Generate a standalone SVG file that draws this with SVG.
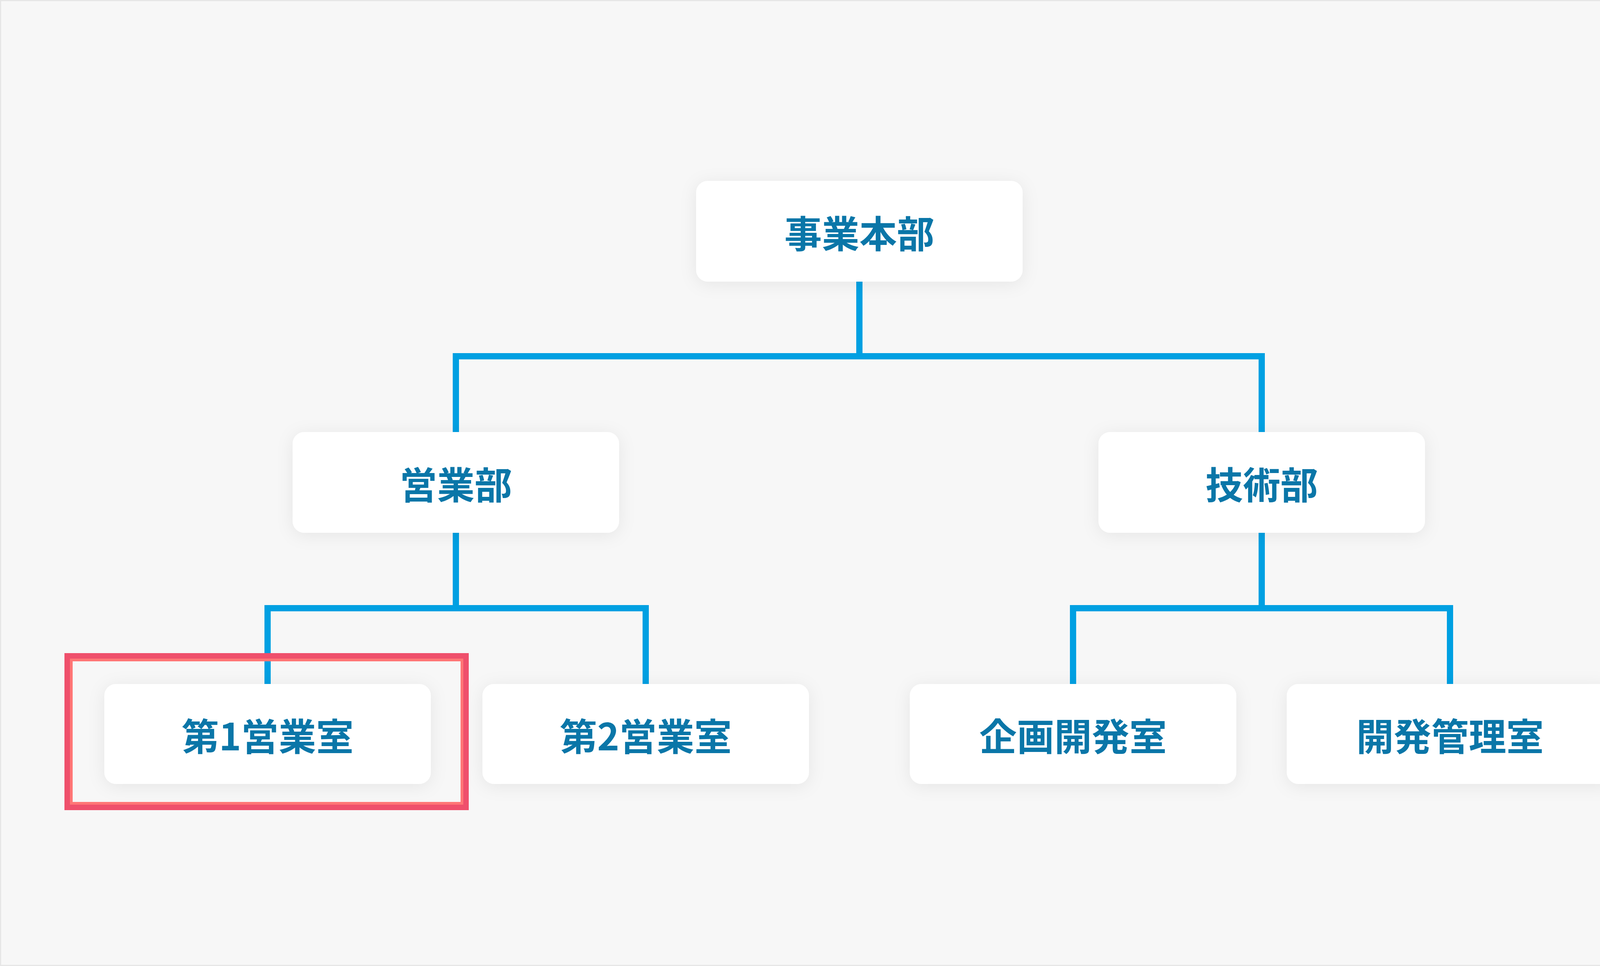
<svg xmlns="http://www.w3.org/2000/svg" width="4400" height="2473" viewBox="0 0 4400 2473">
<style>
.n{fill:#fff;filter:url(#sh)}
.t{font-family:"Noto Sans CJK JP","Liberation Sans",sans-serif;font-weight:bold;font-size:96px;fill:#0A76A8;text-anchor:middle;dominant-baseline:central}
.c{fill:none;stroke:#00A0E2;stroke-width:16;stroke-linecap:square;stroke-linejoin:miter}
</style>
<defs>
<filter id="sh" x="-20%" y="-40%" width="140%" height="180%">
<feDropShadow dx="0" dy="6" stdDeviation="22" flood-color="#000" flood-opacity="0.07"/>
</filter>
</defs>
<rect x="0" y="0" width="4400" height="2473" fill="#F7F7F7" stroke="#E6E6E6" stroke-width="6"/>
<g id="connectors">
<path class="c" d="M2200 721V912M1167 1106V912H3230V1106"/>
<path class="c" d="M1167 1364V1557M685 1751V1557H1653V1751"/>
<path class="c" d="M3230 1364V1557M2747 1751V1557H3712V1751"/>
</g>
<g id="n0"><rect class="n" x="1782" y="463" width="836" height="258" rx="30"/><text class="t" x="2200" y="592">事業本部</text></g>
<g id="n1"><rect class="n" x="749" y="1106" width="836" height="258" rx="30"/><text class="t" x="1167" y="1235">営業部</text></g>
<g id="n2"><rect class="n" x="2812" y="1106" width="836" height="258" rx="30"/><text class="t" x="3230" y="1235">技術部</text></g>
<g id="n3"><rect class="n" x="267" y="1751" width="836" height="256" rx="30"/><text class="t" x="685" y="1879">第1営業室</text></g>
<g id="n4"><rect class="n" x="1235" y="1751" width="836" height="256" rx="30"/><text class="t" x="1653" y="1879">第2営業室</text></g>
<g id="n5"><rect class="n" x="2329" y="1751" width="836" height="256" rx="30"/><text class="t" x="2747" y="1879">企画開発室</text></g>
<g id="n6"><rect class="n" x="3294" y="1751" width="836" height="256" rx="30"/><text class="t" x="3712" y="1879">開発管理室</text></g>
<g id="highlight">
<rect x="172" y="1679" width="1021" height="388" fill="none" stroke="#EF506C" stroke-width="14"/>
<rect x="182.5" y="1689.5" width="1000" height="367" fill="none" stroke="#FF7676" stroke-width="7"/>
</g>
</svg>
